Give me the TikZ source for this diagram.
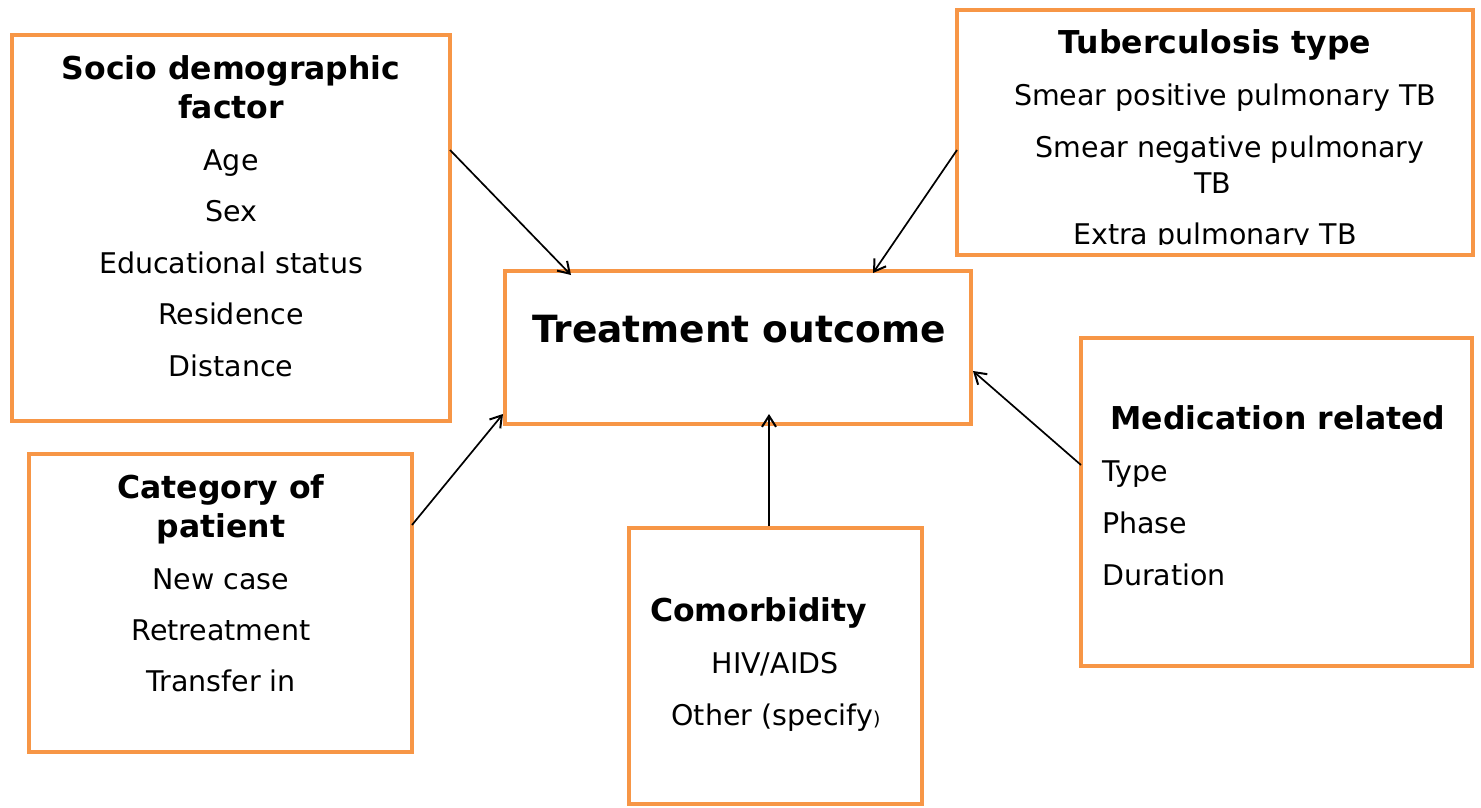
\documentclass[tikz,border=0pt]{standalone}
\usepackage{fontspec}
\setmainfont{DejaVu Sans}
\usetikzlibrary{calc,arrows.meta}
\definecolor{boxorange}{HTML}{F79646}
\begin{document}
\begin{tikzpicture}[x=1pt,y=-1pt,
  box/.style={draw=boxorange,line width=4pt,fill=none,inner sep=0pt},
  txt/.style={anchor=base,inner sep=0pt,font=\fontsize{28.5}{32}\selectfont},
  txtl/.style={anchor=base west,inner sep=0pt,font=\fontsize{28.5}{32}\selectfont},
  hd/.style={anchor=base,inner sep=0pt,font=\fontsize{31.5}{36}\selectfont\bfseries},
  arr/.style={-{Straight Barb[length=11pt,width=14pt,line width=2pt]},line width=1.7pt,black}]
\useasboundingbox (0,0) rectangle (1481,808);
% boxes
\node[box,minimum width=438pt,minimum height=386pt] (socio) at (231,228) {};
\node[box,minimum width=516pt,minimum height=245pt] (tb) at (1215,132.5) {};
\node[box,minimum width=466pt,minimum height=153pt] (out) at (738,347.5) {};
\node[box,minimum width=391pt,minimum height=328pt] (med) at (1276.5,502) {};
\node[box,minimum width=383pt,minimum height=298pt] (cat) at (220.5,603) {};
\node[box,minimum width=293pt,minimum height=276pt] (com) at (775.5,666) {};
% socio text
\node[hd] (s1) at (231,80) {Socio demographic};
\node[hd] (s2) at (231,118) {factor};
\node[txt] (s3) at (231,170) {Age};
\node[txt] (s4) at (231,221) {Sex};
\node[txt] (s5) at (231,273) {Educational status};
\node[txt] (s6) at (231,324) {Residence};
\node[txt] (s7) at (231,376) {Distance};
% tb text
\node[hd] (t1) at (1215,54) {Tuberculosis type};
\node[txt] (t2) at (1225,105) {Smear positive pulmonary TB};
\node[txt] (t3) at (1230,157) {Smear negative pulmonary};
\node[txt] (t4) at (1213,193) {TB};
\begin{scope}
\clip (950,0) rectangle (1481,244);
\node[txt] (t5) at (1215,244) {Extra pulmonary TB};
\end{scope}
% outcome
\node[anchor=base,inner sep=0pt,font=\fontsize{37.5}{42}\selectfont\bfseries] (o1) at (739,342) {Treatment outcome};
% medication
\node[hd] (m1) at (1278,429) {Medication related};
\node[txtl] (m2) at (1102,481) {Type};
\node[txtl] (m3) at (1102,533) {Phase};
\node[txtl] (m4) at (1102,585) {Duration};
% category
\node[hd] (c1) at (221,498) {Category of};
\node[hd] (c2) at (221,537) {patient};
\node[txt] (c3) at (221,589) {New case};
\node[txt] (c4) at (221,640) {Retreatment};
\node[txt] (c5) at (221,691) {Transfer in};
% comorbidity
\node[hd,anchor=base west] (k1) at (650,621) {Comorbidity};
\node[txt] (k2) at (775,673) {HIV/AIDS};
\node[txt] (k3) at (776,725) {Other (specify{\fontsize{19}{22}\selectfont )}};
% arrows
\coordinate (a1) at ($(socio.north east)+(-2,117)$);
\coordinate (a2) at ($(tb.north west)+(2,142)$);
\coordinate (a3) at ($(cat.north east)+(-2,73)$);
\coordinate (a4) at ($(com.north)+(-6.5,0)$);
\coordinate (a5) at ($(med.north west)+(2,129)$);
\draw[arr] (a1) -- ($(out.north west)+(68,6)$);
\draw[arr] (a2) -- ($(out.north east)+(-100,4)$);
\draw[arr] (a3) -- ($(out.south west)+(0,-12)$);
\draw[arr] (a4) -- ($(out.south)+(31,-12)$);
\draw[arr] (a5) -- ($(out.north east)+(0,102)$);
\end{tikzpicture}
\end{document}
